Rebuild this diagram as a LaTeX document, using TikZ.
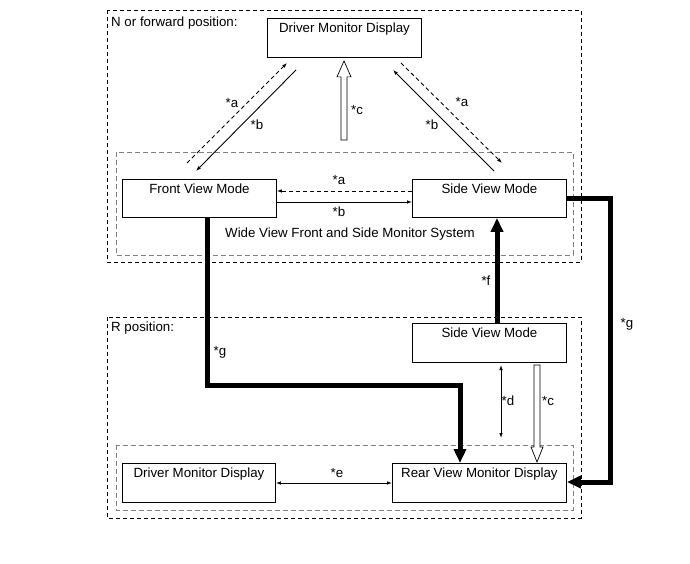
\documentclass[tikz,border=0pt]{standalone}
\usepackage{fontspec}
\setmainfont{Liberation Sans}
\usetikzlibrary{arrows.meta,calc}
\begin{document}
\begin{tikzpicture}[x=1pt,y=-1pt,
  font=\fontsize{13.3}{15}\selectfont,
  box/.style={draw,line width=0.9pt,anchor=north west,inner xsep=0pt,inner ysep=4pt,
    text height=10pt,text depth=21pt,minimum height=39pt},
  outerbox/.style={draw,line width=0.9pt,dash pattern=on 4pt off 3pt},
  innerbox/.style={draw,gray,line width=0.7pt,dash pattern=on 5pt off 3pt},
  thin/.style={line width=0.9pt},
  tip/.style={-{Latex[length=5pt,width=3.6pt]}},
  dtip/.style={{Latex[length=5pt,width=3.6pt]}-{Latex[length=5pt,width=3.6pt]}},
  dsh/.style={dash pattern=on 4pt off 3pt},
  thick/.style={line width=5pt,-{Triangle[length=14pt,width=12pt]}},
  hollow/.style={draw,fill=white,line width=0.7pt},
  lbl/.style={inner sep=0pt}]
\useasboundingbox (0,0) rectangle (690,564);
% frames
\draw[outerbox] (107,10) rectangle (581,262);
\draw[innerbox] (116,152) rectangle (573,255);
\draw[outerbox] (107,317) rectangle (581,518);
\draw[innerbox] (116,445) rectangle (573,510);
\node[lbl,anchor=base west] (nfp) at (111,26.5) {N or forward position:};
\node[lbl,anchor=base west] (rp) at (111,331.5) {R position:};
% boxes
\node[box,minimum width=154pt] (dmdT) at (267,18) {Driver Monitor Display};
\node[box,minimum width=154pt,minimum height=38pt,text depth=20pt] (fvm) at (122,179) {Front View Mode};
\node[box,minimum width=154pt,minimum height=38pt,text depth=20pt] (svmT) at (412,179) {Side View Mode};
\node[box,minimum width=154pt] (svmB) at (412,323) {Side View Mode};
\node[box,minimum width=153pt] (dmdB) at (122,463) {Driver Monitor Display};
\node[box,minimum width=174pt] (rvmd) at (392,463) {Rear View Monitor Display};
\node[lbl,anchor=base] (wv) at (350,237) {Wide View Front and Side Monitor System};
% diagonal coordinates
\coordinate (la1) at (187,163); \coordinate (la2) at (287,63);
\coordinate (lb1) at (296,70);  \coordinate (lb2) at (196,171);
\coordinate (rb1) at (494,171); \coordinate (rb2) at (393,70);
\coordinate (ra1) at (401,63);  \coordinate (ra2) at (502,163);
\draw[thin,dsh,tip] (la1) -- (la2);
\draw[thin,tip] (lb1) -- (lb2);
\draw[thin,tip] (rb1) -- (rb2);
\draw[thin,dsh,tip] (ra1) -- (ra2);
\node[lbl] (la) at (232,103) {*a};
\node[lbl] (lb) at (257,125) {*b};
\node[lbl] (ra) at (462,102) {*a};
\node[lbl] (rb) at (432,125) {*b};
% horizontal
\draw[thin,dsh,tip] (svmT.west |- 0,191) -- (fvm.east |- 0,191);
\draw[thin,tip] (fvm.east |- 0,202) -- (svmT.west |- 0,202);
\node[lbl] (ha) at (339,180) {*a};
\node[lbl] (hb) at (339,212) {*b};
% hollow arrow top
\coordinate (c1s) at (344,140);
\coordinate (c1t) at (dmdT.south -| 344,0);
\draw[hollow] ($(c1s)+(-3,0)$) -- ($(c1t)+(-3,19)$) -- ($(c1t)+(-7,19)$) -- ($(c1t)+(0,3)$)
  -- ($(c1t)+(7,19)$) -- ($(c1t)+(3,19)$) -- ($(c1s)+(3,0)$) -- cycle;
\node[lbl] (c1) at (357,110) {*c};
% thick arrows
\draw[thick] (svmB.north -| 497,0) -- (svmT.south -| 497,0);
\node[lbl] (f) at (486,281) {*f};
\draw[thick] (fvm.south -| 207,0) -- (207,385) -- (460,385) -- (rvmd.north -| 460,0);
\node[lbl] (g1) at (220,352) {*g};
\draw[thick] (svmT.east |- 0,198) -- (610,198) -- (610,482) -- (rvmd.east |- 0,482);
\node[lbl] (g2) at (627,324) {*g};
% d and c bottom
\coordinate (d1) at (501,365); \coordinate (d2) at (501,438);
\draw[thin,dtip] (d1) -- (d2);
\node[lbl] (d) at (508,401) {*d};
\coordinate (c2s) at (svmB.south -| 537,0);
\coordinate (c2t) at (rvmd.north -| 537,0);
\draw[hollow] ($(c2s)+(-3,2)$) -- ($(c2t)+(-3,-16)$) -- ($(c2t)+(-6,-16)$) -- ($(c2t)+(0,-1)$)
  -- ($(c2t)+(6,-16)$) -- ($(c2t)+(3,-16)$) -- ($(c2s)+(3,2)$) -- cycle;
\node[lbl] (c2) at (548,401) {*c};
% e
\draw[thin,dtip] (dmdB.east |- 0,483) -- (rvmd.west |- 0,483);
\node[lbl] (e) at (337,473) {*e};
\end{tikzpicture}
\end{document}
